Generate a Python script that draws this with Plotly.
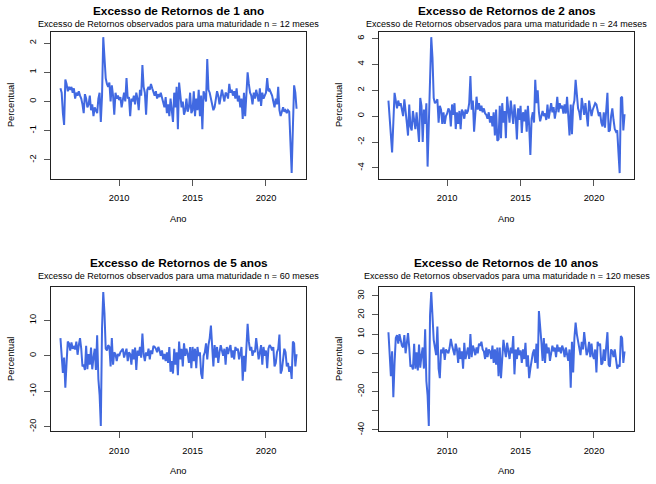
import numpy as np
import plotly.graph_objects as go

# ---------------- data (monthly, Jan 2006 - Feb 2022) ----------------
start_year = 2006

exc_1ano = [
    0.45, 0.3, -0.4, -0.8, 0.75, 0.6, 0.35, 0.5, 0.4, 0.5, 0.3, 0.45,        # 2006
    0.1, 0.3, 0.2, 0.35, 0.2, 0.1, -0.1, -0.4, 0.25, 0.1, -0.2, -0.1,        # 2007
    0.2, -0.3, -0.1, -0.5, -0.2, -0.3, -0.4, 0.1, 0.3, -0.7, 0.2, 2.2,       # 2008
    1.6, 0.8, 0.6, 0.5, 0.65, 0.0, 0.55, 0.2, -0.45, 0.3, 0.1, 0.2,          # 2009
    0.05, 0.15, -0.2, 0.1, 0.3, 0.0, 0.8, 0.1, 0.15, -0.5, 0.1, 0.0,         # 2010
    0.2, -0.1, 0.3, 0.1, -0.3, 0.4, 0.2, 1.25, 0.5, 0.3, -0.45, 0.4,         # 2011
    0.5, 0.4, 0.6, 0.45, 0.3, 0.2, 0.35, 0.1, 0.25, 0.15, 0.3, 0.1,          # 2012
    0.0, -0.2, 0.15, -0.4, -0.1, -0.5, 0.1, -0.3, -0.7, 0.3, -0.2, 0.5,      # 2013
    -0.95, 0.65, 0.1, -0.2, 0.0, -0.45, -0.3, 0.1, -0.35, -0.2, 0.3, -0.4,   # 2014
    -0.3, 0.35, -0.5, 0.1, -0.3, 0.4, -0.5, 0.2, -0.95, 0.35, 0.2, 0.0,      # 2015
    1.45, 0.4, 0.3, 0.1, -0.1, -0.3, -0.2, 0.1, 0.35, 0.2, -0.1, 0.15,       # 2016
    0.4, 0.2, 0.0, 0.3, 0.25, 0.1, 0.6, 0.3, 0.4, 0.2, 0.35, 0.1,            # 2017
    0.45, 0.0, 0.2, -0.2, 0.1, -0.6, 0.3, -0.5, 0.4, 1.0, 0.6, 0.3,          # 2018
    0.2, -0.1, 0.3, 0.1, 0.4, 0.2, 0.0, 0.45, -0.15, 0.3, 0.1, 0.2,          # 2019
    0.3, 0.8, 0.35, 0.4, 0.3, 0.2, 0.0, -0.2, 0.1, -0.1, 0.5, -0.3,          # 2020
    -0.5, -0.3, -0.2, -0.35, -0.3, -0.4, -0.3, -0.35, -1.4, -2.45, -0.9, 0.55,  # 2021
    0.3, -0.25,                                                              # 2022
]

exc_2anos = [
    1.2, -0.3, -1.4, -2.8, -0.5, 1.8, 1.2, 0.6, 1.2, 0.8, 1.0, 0.5,          # 2006
    0.0, 1.3, 0.6, -0.5, -1.5, 0.9, -0.8, -1.1, 0.4, -0.6, -1.0, 0.3,        # 2007
    -0.7, -2.0, 1.4, 0.8, -2.0, 0.5, -0.6, 1.0, -3.9, 0.2, 2.6, 6.1,         # 2008
    4.5, 1.4, 1.0, 1.1, 1.3, -0.5, 0.8, 0.5, -0.6, 0.3, -0.6, 0.0,           # 2009
    0.2, 0.6, 0.4, -0.8, 0.9, 0.1, 1.0, -1.0, 0.3, -0.6, 0.4, -1.0,          # 2010
    0.5, 0.3, -0.2, 0.5, 0.2, 0.4, 1.0, 3.1, 0.5, 1.2, -1.2, 0.7,            # 2011
    1.5, 0.5, 1.0, 0.4, 0.8, 0.3, 0.6, 0.2, 0.1, -0.2, 0.3, -0.5,            # 2012
    0.0, -0.8, 0.3, -1.5, 0.5, -1.9, -1.8, 0.8, -1.7, 1.0, -0.5, 0.4,        # 2013
    -1.7, 1.5, 0.5, -0.5, 1.2, 0.4, -0.6, 0.9, 0.0, -1.8, 0.6, -0.3,         # 2014
    0.8, -1.3, 0.3, -0.4, 0.5, -1.2, 0.8, -0.7, -3.0, -0.2, 0.3, -0.5,       # 2015
    2.8, 1.0, 2.0, 0.3, -0.4, 0.0, 0.4, 0.0, 0.2, -0.3, 0.9, -0.2,           # 2016
    0.5, 1.0, 0.3, 0.7, -0.2, 0.4, 1.5, 0.3, 1.0, 0.6, 0.8, 0.2,             # 2017
    0.9, 0.2, 1.5, -0.2, -1.5, 0.9, -1.4, 0.8, 1.2, 2.8, 1.3, 0.6,           # 2018
    0.3, -0.3, 1.4, 0.6, 0.1, 1.0, 0.2, -0.8, 1.2, 0.4, 0.0, 0.5,            # 2019
    0.7, 1.0, 0.9, 0.5, 0.0, 0.3, -0.5, -0.8, 0.3, -0.9, 0.5, 1.8,           # 2020
    -1.2, -1.1, 0.0, 0.6, -0.3, -1.0, -1.2, -1.1, -2.8, -4.4, 1.4, 1.5,      # 2021
    -1.1, 0.15,                                                              # 2022
]

exc_5anos = [
    5.0, 0.0, -4.8, -0.5, -9.0, -2.0, 4.0, 3.5, 1.5, 3.8, 2.0, 2.5,          # 2006
    1.8, 4.0, 0.3, 3.0, 5.0, 2.0, -3.0, -2.5, -4.0, 2.8, -3.8, 0.5,          # 2007
    -2.5, 2.3, -3.8, -0.5, 2.0, -4.0, 5.8, -6.5, -11.0, -19.8, 8.0, 18.0,    # 2008
    12.0, 2.0, 1.5, 3.0, 2.5, -3.0, 5.0, -2.5, 1.0, 0.5, -1.5, 0.5,          # 2009
    0.0, 1.0, 1.5, 2.0, -0.5, 1.2, 2.0, -1.5, 1.0, 0.5, -2.5, 1.8,           # 2010
    -1.0, 2.3, -4.0, 1.5, 0.0, 2.5, -0.5, 6.3, 0.5, -1.5, 1.0, 0.0,          # 2011
    2.0, -1.0, 1.5, 0.5, 2.8, 2.5, 2.0, 1.0, 2.5, 1.5, 0.0, 1.5,             # 2012
    -1.0, 0.5, -1.5, 1.0, -2.0, 2.5, -4.5, -1.5, -5.0, 2.0, -2.5, 1.0,       # 2013
    -5.5, 4.0, -1.0, 2.0, -3.0, 3.5, 0.0, 2.0, 0.5, -2.0, 2.5, -3.5,         # 2014
    2.5, -1.5, 2.0, -3.5, 2.5, 0.0, 1.0, -5.0, -6.5, 0.0, 1.0, 3.5,          # 2015
    -1.0, 3.0, 5.0, 8.5, 2.0, -3.0, 3.0, -0.5, 2.5, -2.0, 1.0, 3.0,          # 2016
    1.5, 0.0, 2.0, -2.5, 2.5, 0.5, 2.0, 3.0, -0.5, 1.5, -1.0, 2.5,           # 2017
    1.5, 2.0, -1.0, 1.5, 2.5, -7.0, 0.0, -4.5, 3.5, 9.0, 4.0, 1.5,           # 2018
    2.5, 0.0, 1.5, 1.0, 5.0, 2.0, -1.0, 1.0, 3.0, -2.5, 2.5, 0.0,            # 2019
    1.5, -3.5, 2.0, 3.0, 2.5, 1.5, 2.5, -3.0, -2.0, 1.0, 2.0, 6.0,           # 2020
    -5.0, -4.0, 0.0, 2.0, 1.0, -3.0, -2.0, -4.5, -3.0, -6.5, 4.0, 3.5,       # 2021
    -3.0, 0.5,                                                               # 2022
]

exc_10anos = [
    11.0, 0.0, -12.0, 1.0, -23.0, -5.0, 8.0, 9.5, 5.0, 10.0, 6.0, 4.0,       # 2006
    3.0, 9.5, 0.0, 5.0, 10.5, 3.0, -7.0, -6.0, -8.5, 5.0, -8.0, 0.5,         # 2007
    -9.0, 4.5, -7.5, -1.0, 3.0, -8.0, 12.5, -14.5, -22.0, -38.0, 20.0, 32.0, # 2008
    14.0, 7.0, 3.0, -1.0, 14.0, -8.0, -13.0, 2.0, 0.0, 3.0, -3.5, 2.0,       # 2009
    1.0, 0.0, 3.0, 7.5, 4.0, 1.0, -1.0, 5.0, 2.0, -5.0, 3.0, -3.0,           # 2010
    1.0, -8.0, 5.5, -3.0, 1.0, 3.0, -3.0, 10.0, -2.0, 4.0, 2.0, -1.0,        # 2011
    3.0, 0.0, 5.0, 4.0, 6.0, 2.0, 1.0, -3.0, 3.0, -2.0, 2.0, 1.0,            # 2012
    -3.0, 4.0, -5.0, 2.0, -6.0, 3.0, -12.0, 3.0, -13.0, 0.0, 7.0, 2.0,       # 2013
    -2.0, 5.5, 1.0, -3.0, 3.0, 0.0, 9.0, -11.0, 2.0, -3.0, 3.0, -1.0,        # 2014
    1.5, -5.0, 2.0, -3.0, 5.5, -7.0, -1.0, -13.0, -8.0, -3.0, 0.0, 2.0,      # 2015
    -5.0, 5.0, -8.0, 22.0, 11.0, 6.0, -4.0, 8.0, -5.0, 5.0, 0.0, 3.0,        # 2016
    -4.0, 0.0, 4.0, 1.0, 3.0, -2.0, 4.5, 1.0, 3.0, 0.0, 4.0, 2.0,            # 2017
    -2.0, 3.0, 0.0, -4.0, 2.0, -18.0, 6.0, -10.0, 8.0, 16.0, 10.0, 6.0,      # 2018
    2.0, -1.0, 6.0, 2.0, 11.0, 3.0, -1.0, 1.0, 6.0, -2.0, 5.0, -1.0,         # 2019
    -3.0, 2.0, -10.0, 6.0, 4.0, 5.0, -6.0, -5.0, 2.0, -4.0, 4.0, 11.0,       # 2020
    -6.0, -7.0, 2.0, 1.0, -2.0, 2.0, -3.0, -8.0, -6.0, -7.0, 9.0, 8.0,       # 2021
    -5.0, 1.0,                                                               # 2022
]

titles = ["Excesso de Retornos de 1 ano", "Excesso de Retornos de 2 anos",
          "Excesso de Retornos de 5 anos", "Excesso de Retornos de 10 anos"]
subtitles = ["Excesso de Retornos observados para uma maturidade n = 12 meses",
             "Excesso de Retornos observados para uma maturidade n = 24 meses",
             "Excesso de Retornos observados para uma maturidade n = 60 meses",
             "Excesso de Retornos observados para uma maturidade n = 120 meses"]
x_ticks = [2010, 2015, 2020]
y_ticks = [[-2, -1, 0, 1, 2], [-4, -2, 0, 2, 4, 6], [-20, -10, 0, 10],
           [-40, -30, -20, -10, 0, 10, 20, 30]]
y_ticklabels = [["-2", "-1", "0", "1", "2"], ["-4", "-2", "0", "2", "4", "6"],
                ["-20", "-10", "0", "10"],
                ["-40", "", "-20", "", "0", "10", "20", "30"]]
x_label = "Ano"
y_label = "Percentual"

series = [exc_1ano, exc_2anos, exc_5anos, exc_10anos]

# ---------------- layout ----------------
W, H = 656, 484
FONT = "Liberation Sans, Arial, sans-serif"
LINE = "#4169E1"
AX = "#222222"
# plot boxes in pixels (left, right, top, bottom)
boxes = [(51, 306, 32, 180), (379, 634, 32, 180),
         (51, 306, 289, 435), (379, 634, 289, 435)]
title_y = [(11, 24.5), (11, 24.5), (265.5, 278.5), (265.5, 278.5)]
xlab_y = [221, 221, 475, 475]


def px_x(v):
    return v / W


def px_y(v):
    return 1 - v / H


def r_range(lo, hi):
    d = (hi - lo) * 0.04
    return [lo - d, hi + d]


fig = go.Figure()
annotations = []
for i, s in enumerate(series):
    n = len(s)
    t = start_year + np.arange(n) / 12.0
    ax_id = "" if i == 0 else str(i + 1)
    fig.add_trace(go.Scatter(x=t, y=s, mode="lines",
                             line=dict(color=LINE, width=2),
                             xaxis="x" + ax_id, yaxis="y" + ax_id,
                             showlegend=False, hoverinfo="skip"))
    l, r, tp, b = boxes[i]
    common = dict(showline=True, mirror=True, linecolor=AX, linewidth=1,
                  ticks="outside", ticklen=6, tickwidth=1, tickcolor="#555",
                  showgrid=False, zeroline=False,
                  tickfont=dict(family=FONT, size=9.3, color="#000"))
    fig.layout["xaxis" + ax_id] = dict(
        domain=[px_x(l), px_x(r)], anchor="y" + ax_id,
        range=r_range(float(t[0]), float(t[-1])),
        tickvals=x_ticks, ticktext=[str(v) for v in x_ticks],
        ticklabelstandoff=4, **common)
    fig.layout["yaxis" + ax_id] = dict(
        domain=[px_y(b), px_y(tp)], anchor="x" + ax_id,
        range=r_range(min(s), max(s)),
        tickvals=y_ticks[i], ticktext=y_ticklabels[i], tickangle=-90,
        ticklabelstandoff=4, **common)
    cx = px_x((l + r) / 2)
    cy = px_y((tp + b) / 2)
    annotations += [
        dict(text="<b>" + titles[i] + "</b>", x=cx, y=px_y(title_y[i][0]),
             xref="paper", yref="paper", showarrow=False,
             xanchor="center", yanchor="middle",
             font=dict(family=FONT, size=11.8, color="#000")),
        dict(text=subtitles[i], x=cx, y=px_y(title_y[i][1]),
             xref="paper", yref="paper", showarrow=False,
             xanchor="center", yanchor="middle",
             font=dict(family=FONT, size=9.05, color="#000")),
        dict(text=x_label, x=cx, y=px_y(xlab_y[i]),
             xref="paper", yref="paper", showarrow=False,
             xanchor="center", yanchor="middle",
             font=dict(family=FONT, size=9.3, color="#000")),
        dict(text=y_label, x=px_x(l - 40), y=cy, textangle=-90,
             xref="paper", yref="paper", showarrow=False,
             xanchor="center", yanchor="middle",
             font=dict(family=FONT, size=9.3, color="#000")),
    ]

fig.update_layout(width=W, height=H, margin=dict(l=0, r=0, t=0, b=0),
                  paper_bgcolor="white", plot_bgcolor="white",
                  annotations=annotations, showlegend=False)
fig.write_html("out.html",
               config={"displayModeBar": False, "staticPlot": True},
               post_script="document.body.style.margin='0';"
                           "document.body.style.overflow='hidden';")
